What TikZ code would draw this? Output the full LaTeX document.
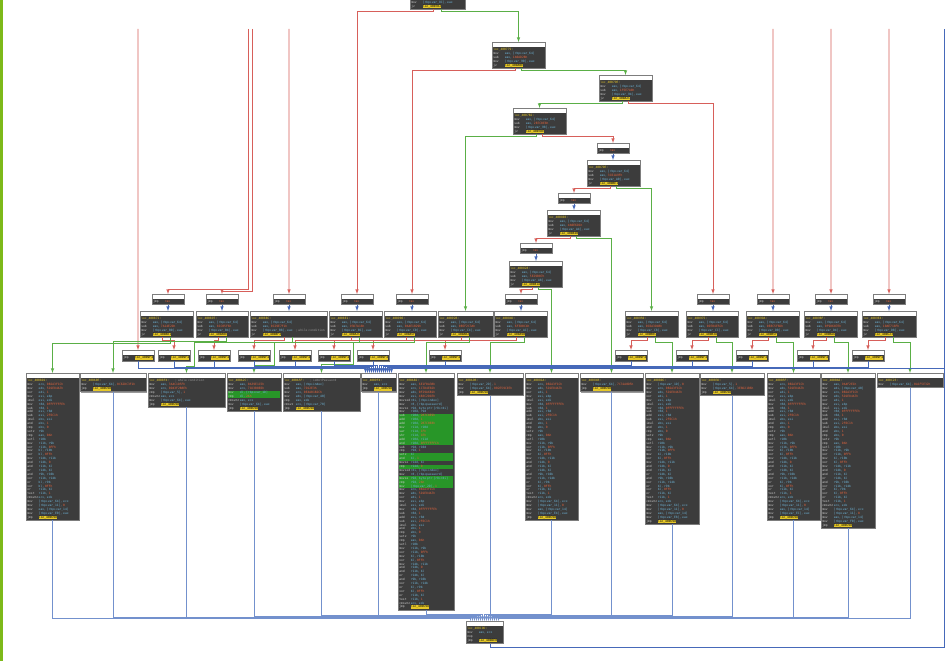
\documentclass[tikz,border=0pt]{standalone}
\usepackage{fontspec}
\setmonofont{DejaVu Sans Mono}
\usepackage{tikz}
\usetikzlibrary{calc,shadows}

\definecolor{idabg}{RGB}{60,60,60}
\definecolor{idaedge}{RGB}{125,125,125}
\definecolor{idayel}{RGB}{230,200,40}
\definecolor{idagry}{RGB}{205,205,205}
\definecolor{idacyn}{RGB}{110,180,215}
\definecolor{idaorg}{RGB}{225,100,60}
\definecolor{idacmt}{RGB}{150,150,150}
\definecolor{idahl}{RGB}{40,150,40}
\definecolor{idared}{RGB}{215,95,90}
\definecolor{idagrn}{RGB}{90,175,70}
\definecolor{idablu}{RGB}{70,105,185}
\definecolor{idabus}{RGB}{115,145,205}
\definecolor{barlime}{RGB}{125,185,25}

\setlength{\fboxsep}{0.25pt}
\newcommand{\idafont}{\ttfamily\fontsize{3}{3.9}\selectfont}
\newcommand{\albl}[1]{{\color{idayel}#1}\\}
\newcommand{\aop}[2]{\makebox[3.8em][l]{\color{idagry}#1}{\color{idacyn}#2}\\}
\newcommand{\aopn}[3]{\makebox[3.8em][l]{\color{idagry}#1}{\color{idacyn}#2}{\color{idaorg}#3}\\}
\newcommand{\aend}[3]{\makebox[3.8em][l]{\color{idagry}#1}{\color{idacyn}#2}{\color{idaorg}#3}}
\newcommand{\ajmp}[2]{\makebox[3.8em][l]{\color{idagry}#1}\colorbox{idayel}{\color{black}#2}}
\newcommand{\ahl}{\makebox[0pt][l]{\color{idahl}\rule[-1pt]{\hsize}{3.9pt}}}
\newcommand{\midbody}[4]{\albl{#1:}\aop{mov}{eax, [rbp+var\_64]}\aopn{sub}{eax, }{#2}\aop{mov}{[rbp+#3], eax}\ajmp{jz}{#4}}
\newcommand{\hashbody}{%
\aopn{mov}{ecx, }{0B2A3F1Ch}\aopn{mov}{edx, }{5D1E84A7h}\aopn{xor}{edi, }{1}%
\aop{mov}{esi, ebp}\aop{imul}{esi, edi}\aopn{mov}{r8d, }{0FFFFFFFEh}%
\aopn{sub}{r8d, }{1}\aop{add}{esi, r8d}\aopn{sub}{esi, }{2F6C1h}%
\aop{imul}{ebx, esi}\aopn{and}{ebx, }{1}\aopn{cmp}{ebx, }{0}%
\aop{setz}{r9b}\aopn{cmp}{eax, }{0Ah}\aop{setl}{r10b}%
\aop{mov}{r11b, r9b}\aopn{xor}{r11b, }{0FFh}\aop{mov}{bl, r10b}%
\aopn{xor}{bl, }{0FFh}\aop{mov}{r14b, r11b}\aopn{and}{r14b, }{0}%
\aop{and}{r11b, bl}\aop{or}{r14b, bl}\aop{and}{r9b, r10b}%
\aop{xor}{r11b, r14b}\aop{or}{bl, r9b}\aopn{xor}{bl, }{0FFh}%
\aop{or}{r11b, bl}\aopn{test}{r11b, }{1}\aop{cmovnz}{ecx, edx}}
\newcommand{\hashtail}[1]{\aop{mov}{[rbp+var\_64], ecx}\aopn{mov}{[rbp+var\_11], }{0}\aop{mov}{eax, [rbp+var\_14]}\aop{mov}{[rbp+#1], eax}\ajmp{jmp}{loc\_400C9D}}

\begin{document}
\begin{tikzpicture}[x=1pt, y=-1pt,
    blk/.style={draw=idaedge, fill=idabg, line width=0.3pt, anchor=north west,
      inner xsep=1.2pt, inner ysep=1pt, align=left, font=\idafont, text width=#1,
      execute at begin node={\rule{0pt}{7.6pt}},
      path picture={\fill[white] (path picture bounding box.north west) rectangle ([yshift=-4.5pt]path picture bounding box.north east);},
      drop shadow={shadow xshift=1pt, shadow yshift=-1pt, fill=black!40, opacity=1}},
    redge/.style={draw=idared, line width=0.6pt, -latex},
    gedge/.style={draw=idagrn, line width=0.6pt, -latex},
    bedge/.style={draw=idablu, line width=0.6pt, -latex},
    bbus/.style={draw=idabus, line width=0.5pt, -latex},
    bline/.style={draw=idablu, line width=0.6pt}]
    \useasboundingbox (0,0) rectangle (952,661);
    \fill[white] (0,0) rectangle (952,661);
    \clip (0,0) rectangle (952,661);
    \fill[barlime] (0,0) rectangle (3,661);

    % edges coming from blocks above the view
    \coordinate (u1) at (138,29);
    \coordinate (u2) at (248,29);
    \coordinate (u3) at (252,29);
    \coordinate (u4) at (289,29);
    \coordinate (u5) at (773,29);
    \coordinate (u6) at (831,29);
    \coordinate (u7) at (889,29);
    \coordinate (u8) at (944,29);
    \coordinate (u9) at (944,368);

    % Place nodes: dispatcher chain
    \node[blk=52.3pt] (T0) at (410,-5.5) {\aop{mov}{[rbp+var\_8C], eax}\ajmp{jz}{loc\_4007B2}};
    \node[blk=50.3pt] (B1) at (492,42) {\midbody{loc\_400779}{1A0AD2Bh}{var\_90}{loc\_400A0E}};
    \node[blk=50.3pt] (B2) at (599,75) {\midbody{loc\_40079E}{1F5E7A0h}{var\_94}{loc\_400A2C}};
    \node[blk=50.3pt] (B3) at (513,108) {\midbody{loc\_4007B2}{2B7C0E8h}{var\_98}{loc\_4007DE}};
    \node[blk=29.3pt] (S1) at (597,143) {\aend{jmp}{}{rax}};
    \node[blk=50.3pt] (B4) at (587,160) {\midbody{loc\_4007DE}{3C61A9Fh}{var\_A0}{loc\_400BE1}};
    \node[blk=29.3pt] (S2) at (558,193) {\aend{jmp}{}{rax}};
    \node[blk=50.3pt] (B5) at (547,210) {\midbody{loc\_400803}{4A0E6D1h}{var\_A4}{loc\_40084B}};
    \node[blk=29.3pt] (S3) at (520,243) {\aend{jmp}{}{rax}};
    \node[blk=50.3pt] (B6) at (509,261) {\midbody{loc\_400828}{5E29B07h}{var\_A8}{loc\_40081A}};
    \node[blk=29.3pt] (S4) at (505,294) {\aend{jmp}{}{rax}};
    \node[blk=50.3pt] (B7) at (494,311) {\midbody{loc\_40084D}{6F3D0C4h}{var\_AC}{loc\_400A9B}};

    % small jump blocks, upper row
    \node[blk=29.3pt] (t1) at (152,294) {\aend{jmp}{}{rax}};
    \node[blk=29.3pt] (t2) at (206,294) {\aend{jmp}{}{rax}};
    \node[blk=29.3pt] (t3) at (273,294) {\aend{jmp}{}{rax}};
    \node[blk=29.3pt] (t4) at (341,294) {\aend{jmp}{}{rax}};
    \node[blk=29.3pt] (t5) at (396,294) {\aend{jmp}{}{rax}};
    \node[blk=29.3pt] (t6) at (697,294) {\aend{jmp}{}{rax}};
    \node[blk=29.3pt] (t7) at (757,294) {\aend{jmp}{}{rax}};
    \node[blk=29.3pt] (t8) at (815,294) {\aend{jmp}{}{rax}};
    \node[blk=29.3pt] (t9) at (873,294) {\aend{jmp}{}{rax}};

    % compare blocks
    \node[blk=50.3pt] (M1) at (140,311) {\midbody{loc\_400872}{7A14E2Dh}{var\_B0}{loc\_4008D1}};
    \node[blk=49.3pt] (M2) at (196,311) {\midbody{loc\_400897}{81C05F6h}{var\_B4}{loc\_400A0E}};
    \node[blk=74.3pt] (M3) at (250,311) {\albl{loc\_4008BC:}\aop{mov}{eax, [rbp+var\_64]}\aopn{sub}{eax, }{0C29E7F1h}\makebox[3.8em][l]{\color{idagry}mov}\mbox{\color{idacyn}[rbp+var\_B8], eax\hspace{1em}\color{idacmt}; while condition}\\\ajmp{jz}{loc\_4008F4}};
    \node[blk=50.3pt] (M4) at (329,311) {\midbody{loc\_4008E1}{93D7A18h}{var\_BC}{loc\_400A2C}};
    \node[blk=49.3pt] (M5) at (384,311) {\midbody{loc\_400906}{0A4E1B29h}{var\_C0}{loc\_400A5F}};
    \node[blk=52.3pt] (M6) at (438,311) {\midbody{loc\_40092B}{0B5F2C3Ah}{var\_C4}{loc\_400AB2}};
    \node[blk=50.3pt] (M8) at (625,311) {\midbody{loc\_400950}{0C6A3D4Bh}{var\_C8}{loc\_400B0C}};
    \node[blk=49.3pt] (M9) at (686,311) {\midbody{loc\_400975}{0D7B4E5Ch}{var\_CC}{loc\_400B3D}};
    \node[blk=50.3pt] (M10) at (746,311) {\midbody{loc\_40099A}{0E8C5F6Dh}{var\_D0}{loc\_400B5F}};
    \node[blk=50.3pt] (M11) at (804,311) {\midbody{loc\_4009BF}{0F9D607Eh}{var\_D4}{loc\_400BA6}};
    \node[blk=51.3pt] (M12) at (862,311) {\midbody{loc\_4009E4}{10AE718Fh}{var\_D8}{loc\_400C23}};

    % small jump blocks, lower row
    \node[blk=29.3pt] (s1) at (122,350) {\ajmp{jmp}{loc\_4009F4}};
    \node[blk=29.3pt] (s2) at (158,350) {\ajmp{jmp}{loc\_4009F4}};
    \node[blk=29.3pt] (s3) at (198,350) {\ajmp{jmp}{loc\_4009F4}};
    \node[blk=29.3pt] (s4) at (238,350) {\ajmp{jmp}{loc\_4009F4}};
    \node[blk=29.3pt] (s5) at (279,350) {\ajmp{jmp}{loc\_4009F4}};
    \node[blk=29.3pt] (s6) at (318,350) {\ajmp{jmp}{loc\_4009F4}};
    \node[blk=29.3pt] (s7) at (357,350) {\ajmp{jmp}{loc\_4009F4}};
    \node[blk=29.3pt] (s8) at (429,350) {\ajmp{jmp}{loc\_4009F4}};
    \node[blk=29.3pt] (s9) at (615,350) {\ajmp{jmp}{loc\_4009F4}};
    \node[blk=29.3pt] (s10) at (676,350) {\ajmp{jmp}{loc\_4009F4}};
    \node[blk=29.3pt] (s11) at (736,350) {\ajmp{jmp}{loc\_4009F4}};
    \node[blk=29.3pt] (s12) at (797,350) {\ajmp{jmp}{loc\_4009F4}};
    \node[blk=29.3pt] (s13) at (852,350) {\ajmp{jmp}{loc\_4009F4}};

    % case blocks
    \node[blk=50.3pt] (L1) at (26,373) {\albl{loc\_4008D1:}\hashbody\hashtail{var\_E0}};
    \node[blk=63.3pt] (L2) at (80,373) {\albl{loc\_400A0E:}\aopn{mov}{[rbp+var\_64], }{0C62DC3F1h}\ajmp{jmp}{loc\_400C9D}};
    \node[blk=74.3pt] (L3) at (148,373) {\albl{\mbox{loc\_4008F4:\hspace{2em}\color{idacmt}; while condition}}\aopn{mov}{eax, }{3A4C1D5Fh}\aopn{mov}{ecx, }{0D43F2B8Eh}\aopn{cmp}{[rbp+var\_5], }{1}\aop{cmovnz}{eax, ecx}\aop{mov}{[rbp+var\_64], eax}\ajmp{jmp}{loc\_400C9D}};
    \node[blk=51.3pt] (L4) at (227,373) {\albl{loc\_400A2C:}\aopn{mov}{eax, }{0A39E1C5h}\aopn{mov}{ecx, }{71D3B0E6h}\ahl\aop{mov}{dl, [rbp+var\_1D]}\ahl\aopn{cmp}{dl, }{2Ah}\aop{cmovnz}{eax, ecx}\aop{mov}{[rbp+var\_64], eax}\ajmp{jmp}{loc\_400C9D}};
    \node[blk=74.3pt] (L5) at (283,373) {\albl{\mbox{loc\_400A5F:\hspace{2em}\color{idacmt}; isNotPassword}}\aop{mov}{eax, [rbp+index]}\aopn{sub}{eax, }{7D12E3h}\aopn{mov}{ecx, }{0E4A01B2Ch}\aop{mov}{edx, [rbp+var\_40]}\aop{cmp}{eax, edx}\aop{cmovz}{ecx, [rbp+var\_70]}\ajmp{jmp}{loc\_400C9D}};
    \node[blk=32.3pt] (L6) at (361,373) {\albl{loc\_4009F4:}\aop{mov}{eax, ecx}\ajmp{jmp}{loc\_400C9D}};
    \node[blk=53.3pt] (L7) at (398,373) {\albl{loc\_400AB2:}%
      \aopn{mov}{eax, }{6E1F0A3Bh}\aopn{mov}{ecx, }{1C7D4E82h}\aopn{mov}{edx, }{0F29A6B1h}\aopn{mov}{esi, }{4B3C2D1Eh}%
      \aop{movsxd}{rdi, [rbp+index]}\aop{mov}{r8, [rbp+password]}\aop{movsx}{r9d, byte ptr [r8+rdi]}\aop{mov}{r10d, r9d}%
      \ahl\aopn{sub}{r10d, }{2B7C0E9h}\ahl\aopn{add}{r10d, }{1}\ahl\aopn{add}{r10d, }{2B7C0E8h}\ahl\aop{mov}{r11d, r10d}%
      \ahl\aopn{sar}{r11d, }{1Fh}\ahl\aopn{shr}{r11d, }{1Eh}\ahl\aop{add}{r10d, r11d}\ahl\aopn{and}{r10d, }{0FFFFFFFCh}%
      \aop{sub}{r9d, r10d}\aopn{cmp}{r9d, }{1}\ahl\aop{setz}{bl}\ahl\aopn{and}{bl, }{1}\aop{movsx}{r14d, bl}%
      \ahl\aopn{cmp}{r14d, }{0}\aop{movsxd}{rdi, [rbp+index]}\aop{mov}{r8, [rbp+password]}%
      \ahl\aop{movsx}{r9d, byte ptr [r8+rdi]}\ahl\aopn{cmp}{r9d, }{2Ah}\ahl\aopn{mov}{[rbp+var\_2D], }{1}%
      \hashbody\ajmp{jmp}{loc\_400C9D}};
    \node[blk=63.3pt] (L8) at (457,373) {\albl{loc\_400A9B:}\aopn{mov}{[rbp+var\_2D], }{1}\aopn{mov}{[rbp+var\_64], }{0B2E59C07h}\ajmp{jmp}{loc\_400C9D}};
    \node[blk=50.3pt] (L9) at (525,373) {\albl{loc\_40081A:}\hashbody\hashtail{var\_E4}};
    \node[blk=60.3pt] (L10) at (580,373) {\albl{loc\_40084B:}\aopn{mov}{[rbp+var\_64], }{7C31A0D5h}\ajmp{jmp}{loc\_400C9D}};
    \node[blk=51.3pt] (L11) at (645,373) {\albl{loc\_400B0C:}\aopn{mov}{[rbp+var\_1D], }{0}\hashbody\hashtail{var\_E8}};
    \node[blk=61.3pt] (L12) at (700,373) {\albl{loc\_400B3D:}\aopn{mov}{[rbp+var\_5], }{1}\aopn{mov}{[rbp+var\_64], }{3E8D21B6h}\ajmp{jmp}{loc\_400C9D}};
    \node[blk=50.3pt] (L13) at (767,373) {\albl{loc\_400B5F:}\hashbody\hashtail{var\_EC}};
    \node[blk=51.3pt] (L14) at (821,373) {\albl{loc\_400BA6:}\aopn{mov}{eax, }{9A4F2E1h}\aop{mov}{edi, [rbp+var\_40]}\hashbody\hashtail{var\_F0}};
    \node[blk=63.3pt] (L15) at (877,373) {\albl{loc\_400C23:}\aend{mov}{[rbp+var\_64], }{0A1F5E32h}};
    \node[blk=34.3pt] (F) at (466,621) {\albl{loc\_400C9D:}\aop{mov}{eax, ecx}\aop{nop}{}\ajmp{jmp}{loc\_4006E0}};

    % dispatcher chain edges
    \draw[redge] ([xshift=-4pt]T0.south) -- ++(0,2) -| (t4.north);
    \draw[gedge] ([xshift=4pt]T0.south) -- ++(0,2) -| (B1.north);
    \draw[redge] ([xshift=-3pt]B1.south) -- ++(0,2) -| (t5.north);
    \draw[gedge] ([xshift=3pt]B1.south) -- ++(0,2) -| (B2.north);
    \draw[gedge] ([xshift=-3pt]B2.south) -- ++(0,2) -| (B3.north);
    \draw[redge] ([xshift=3pt]B2.south) -- ++(0,2) -| (t6.north);
    \draw[gedge] ([xshift=-3pt]B3.south) -- ++(0,2) -| (M6.north);
    \draw[redge] ([xshift=3pt]B3.south) -- ++(0,2) -| (S1.north);
    \draw[bedge] (S1.south) -- (S1.south |- B4.north);
    \draw[redge] ([xshift=-3pt]B4.south) -- ++(0,2) -| (S2.north);
    \draw[gedge] ([xshift=3pt]B4.south) -- ++(0,2) -| (M8.north);
    \draw[bedge] (S2.south) -- (S2.south |- B5.north);
    \draw[redge] ([xshift=-3pt]B5.south) -- ++(0,2) -| (S3.north);
    \draw[gedge] ([xshift=3pt]B5.south) -- ++(0,2) -| (L10.north);
    \draw[bedge] (S3.south) -- (S3.south |- B6.north);
    \draw[redge] ([xshift=-3pt]B6.south) -- ++(0,2) -| (S4.north);
    \draw[gedge] ([xshift=3pt]B6.south) -- ++(0,2) -| (L9.north);
    \draw[bedge] (S4.south) -- (S4.south |- B7.north);

    % edges from above
    \draw[redge] (u1) -- (s1.north);
    \draw[redge] (u2) |- ([yshift=5pt]t1.north) -- (t1.north);
    \draw[redge] (u3) |- ([yshift=3pt]t2.north) -- (t2.north);
    \draw[redge] (u4) -- (t3.north);
    \draw[redge] (u5) -- (t7.north);
    \draw[redge] (u6) -- (t8.north);
    \draw[redge] (u7) -- (t9.north);

    % upper jumps into compare blocks
    \draw[bedge] (t1.south) -- (t1.south |- M1.north);
    \draw[bedge] (t2.south) -- (t2.south |- M2.north);
    \draw[bedge] (t3.south) -- (t3.south |- M3.north);
    \draw[bedge] (t4.south) -- (t4.south |- M4.north);
    \draw[bedge] (t5.south) -- (t5.south |- M5.north);
    \draw[bedge] (t6.south) -- (t6.south |- M9.north);
    \draw[bedge] (t7.south) -- (t7.south |- M10.north);
    \draw[bedge] (t8.south) -- (t8.south |- M11.north);
    \draw[bedge] (t9.south) -- (t9.south |- M12.north);

    % compare blocks: not taken
    \draw[redge] ([xshift=-4pt]M1.south) -- ++(0,3) -| (s2.north);
    \draw[redge] ([xshift=-4pt]M2.south) -- ++(0,3) -| (s3.north);
    \draw[redge] ([xshift=-4pt]M3.south) -- ++(0,3) -| (s4.north);
    \draw[redge] ([xshift=-4pt]M4.south) -- ++(0,3) -| (s5.north);
    \draw[redge] ([xshift=-4pt]M5.south) -- ++(0,3) -| (s6.north);
    \draw[redge] ([xshift=-4pt]M6.south) -- ++(0,3) -| (s7.north);
    \draw[redge] ([xshift=-4pt]B7.south) -- ++(0,3) -| (s8.north);
    \draw[redge] ([xshift=-4pt]M8.south) -- ++(0,3) -| (s9.north);
    \draw[redge] ([xshift=-4pt]M9.south) -- ++(0,3) -| (s10.north);
    \draw[redge] ([xshift=-4pt]M10.south) -- ++(0,3) -| (s11.north);
    \draw[redge] ([xshift=-4pt]M11.south) -- ++(0,3) -| (s12.north);
    \draw[redge] ([xshift=-4pt]M12.south) -- ++(0,3) -| (s13.north);

    % compare blocks: taken
    \draw[gedge] ([xshift=4pt]M1.south) -- ++(0,6) -| (L1.north);
    \draw[gedge] ([xshift=4pt]M2.south) -- ++(0,4) -| (L2.north);
    \draw[gedge] ([xshift=4pt]M3.south) -- ++(0,5) -| ++(-98.5,24) -| (L3.north);
    \draw[gedge] ([xshift=4pt]M4.south) -- ++(0,5) -| ++(-85,23) -| (L4.north);
    \draw[gedge] ([xshift=4pt]M5.south) -- ++(0,5) -| ++(-60.5,22) -| (L5.north);
    \draw[gedge] ([xshift=4pt]M6.south) -- ++(0,5) -| (L7.north);
    \draw[gedge] ([xshift=4pt]B7.south) -- ++(0,5) -| (L8.north);
    \draw[gedge] ([xshift=4pt]M8.south) -- ++(0,5) -| (L11.north);
    \draw[gedge] ([xshift=4pt]M9.south) -- ++(0,5) -| (L12.north);
    \draw[gedge] ([xshift=4pt]M10.south) -- ++(0,5) -| (L13.north);
    \draw[gedge] ([xshift=4pt]M11.south) -- ++(0,5) -| (L14.north);
    \draw[gedge] ([xshift=4pt]M12.south) -- ++(0,5) -| (L15.north);

    % lower jumps back to the loop block
    \draw[bedge] (s1.south) -- ++(0,7) -| ([xshift=-13pt]L6.north);
    \draw[bedge] (s2.south) -- ++(0,6.5) -| ([xshift=-11pt]L6.north);
    \draw[bedge] (s3.south) -- ++(0,6) -| ([xshift=-9pt]L6.north);
    \draw[bedge] (s4.south) -- ++(0,5.5) -| ([xshift=-7pt]L6.north);
    \draw[bedge] (s5.south) -- ++(0,5) -| ([xshift=-5pt]L6.north);
    \draw[bedge] (s6.south) -- ++(0,4.5) -| ([xshift=-3pt]L6.north);
    \draw[bedge] (s7.south) -- ++(0,4) -| ([xshift=-1pt]L6.north);
    \draw[bedge] (s8.south) -- ++(0,4) -| ([xshift=1pt]L6.north);
    \draw[bedge] (s9.south) -- ++(0,4.5) -| ([xshift=3pt]L6.north);
    \draw[bedge] (s10.south) -- ++(0,5) -| ([xshift=5pt]L6.north);
    \draw[bedge] (s11.south) -- ++(0,5.5) -| ([xshift=7pt]L6.north);
    \draw[bedge] (s12.south) -- ++(0,6) -| ([xshift=9pt]L6.north);
    \draw[bedge] (s13.south) -- ++(0,6.5) -| ([xshift=11pt]L6.north);
    \draw[bedge] (u9) -| ([xshift=13pt]L6.north);

    % case blocks into the end block
    \draw[bbus] (L1.south) |- ([xshift=-14pt,yshift=3pt]F.north) -- ([xshift=-14pt]F.north);
    \draw[bbus] (L2.south) |- ([xshift=-12pt,yshift=3.6pt]F.north) -- ([xshift=-12pt]F.north);
    \draw[bbus] (L3.south) |- ([xshift=-10pt,yshift=4.2pt]F.north) -- ([xshift=-10pt]F.north);
    \draw[bbus] (L4.south) |- ([xshift=-8pt,yshift=4.8pt]F.north) -- ([xshift=-8pt]F.north);
    \draw[bbus] (L5.south) |- ([xshift=-6pt,yshift=5.4pt]F.north) -- ([xshift=-6pt]F.north);
    \draw[bbus] (L6.south) |- ([xshift=-4pt,yshift=6pt]F.north) -- ([xshift=-4pt]F.north);
    \draw[bbus] (L7.south) |- ([xshift=-2pt,yshift=6.6pt]F.north) -- ([xshift=-2pt]F.north);
    \draw[bbus] (L8.south) |- ([yshift=7.2pt]F.north) -- (F.north);
    \draw[bbus] (L9.south) |- ([xshift=2pt,yshift=6.6pt]F.north) -- ([xshift=2pt]F.north);
    \draw[bbus] (L10.south) |- ([xshift=4pt,yshift=6pt]F.north) -- ([xshift=4pt]F.north);
    \draw[bbus] (L11.south) |- ([xshift=6pt,yshift=5.4pt]F.north) -- ([xshift=6pt]F.north);
    \draw[bbus] (L12.south) |- ([xshift=8pt,yshift=4.8pt]F.north) -- ([xshift=8pt]F.north);
    \draw[bbus] (L13.south) |- ([xshift=10pt,yshift=4.2pt]F.north) -- ([xshift=10pt]F.north);
    \draw[bbus] (L14.south) |- ([xshift=12pt,yshift=3.6pt]F.north) -- ([xshift=12pt]F.north);
    \draw[bbus] (L15.south) |- ([xshift=14pt,yshift=3pt]F.north) -- ([xshift=14pt]F.north);
    \draw[bline] ([xshift=6pt]F.south) -- ++(0,4) -| (u8);
\end{tikzpicture}
\end{document}
